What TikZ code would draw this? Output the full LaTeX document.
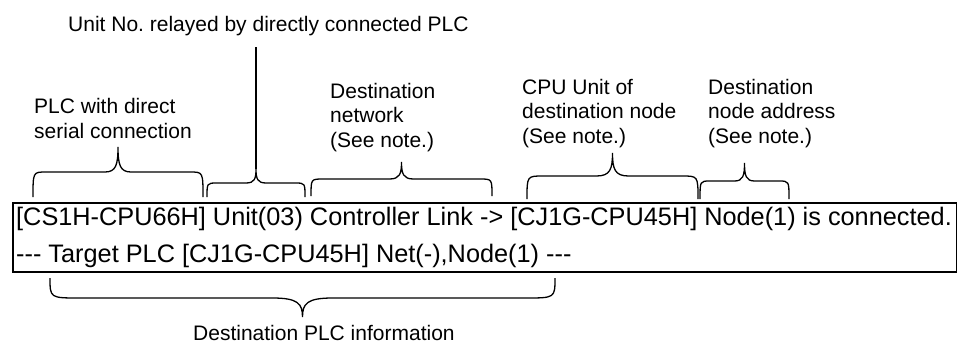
\documentclass[tikz,border=0pt]{standalone}
\usepackage{fontspec}
\setmainfont{Liberation Sans}
\newfontfamily\logfont{Liberation Sans}[Ligatures=TeXOff]
\usepackage{tikz}
\usetikzlibrary{positioning}

% curly brace: left x, right x, end y, middle y, tip y, curl
\newcommand{\plcbrace}[6]{%
  \draw[bracestroke] (#1,#3) .. controls (#1,#4) .. ({#1+#6},#4)
    -- ({(#1+#2)/2-#6},#4) .. controls ({(#1+#2)/2-0.15*#6},#4) and ({(#1+#2)/2},{#4+0.3*(#5-#4)}) .. ({(#1+#2)/2},#5)
    .. controls ({(#1+#2)/2},{#4+0.3*(#5-#4)}) and ({(#1+#2)/2+0.15*#6},#4) .. ({(#1+#2)/2+#6},#4)
    -- ({#2-#6},#4) .. controls (#2,#4) .. (#2,#3);}

\begin{document}
\begin{tikzpicture}[
    x=1pt, y=-1pt,
    lbl/.style={anchor=base west, inner sep=0pt, align=left, font=\fontsize{21}{24.5}\selectfont},
    logtext/.style={anchor=base west, inner sep=0pt, font=\logfont\fontsize{25.3}{30}\selectfont},
    logframe/.style={draw, line width=1.5pt, inner sep=0pt, anchor=north west},
    bracestroke/.style={line width=1.3pt}
  ]
  \useasboundingbox (0,0) rectangle (957,343);

  % message window
  \node[logframe, minimum width=944pt, minimum height=69pt] (logbox) at (12,202) {};
  \node[logtext] (line1) at (16,225) {[CS1H-CPU66H] Unit(03) Controller Link -> [CJ1G-CPU45H] Node(1) is connected.};
  \node[logtext] (line2) at (16,262) {--- Target PLC [CJ1G-CPU45H] Net(-),Node(1) ---};

  % labels (placed at the baseline of their last line)
  \node[lbl] (unitlbl) at (68,31) {Unit No.\ relayed by directly connected PLC};
  \node[lbl] (plclbl) at (34,138) {PLC with direct\\serial connection};
  \node[lbl] (netlbl) at (330,147) {Destination\\network\\(See note.)};
  \node[lbl] (cpulbl) at (522,143) {CPU Unit of\\destination node\\(See note.)};
  \node[lbl] (addrlbl) at (708,143) {Destination\\node address\\(See note.)};
  \node[lbl] (destlbl) at (193,340) {Destination PLC information};

  % braces
  \plcbrace{33}{203}{197}{172}{147}{13}
  \plcbrace{207}{305}{197}{183}{169}{10}
  \plcbrace{311}{492}{196}{179}{162}{12}
  \plcbrace{527}{698}{199}{176}{153}{16}
  \plcbrace{700}{789}{199}{181}{163}{10}
  \plcbrace{555}{50}{278}{298}{317}{-30}

  \coordinate (unittip) at (256,169);
  \coordinate (unittop) at (256,47);
  \draw[bracestroke] (unittip) -- (unittop);
\end{tikzpicture}
\end{document}
